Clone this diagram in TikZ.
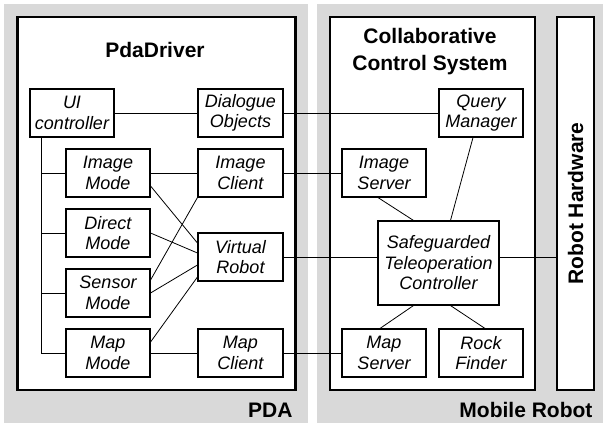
\documentclass[tikz,border=0pt]{standalone}
\usepackage{fontspec}
\setmainfont{Liberation Sans}
\usetikzlibrary{positioning}

\begin{document}
\begin{tikzpicture}[x=1pt,y=-1pt,
comp/.style={draw,line width=1.1pt,fill=white,align=center,inner sep=0pt,minimum width=#1,minimum height=48pt,font=\fontsize{18}{20.5}\selectfont\itshape},comp/.default=84pt,
frame/.style={draw,line width=2.2pt,fill=white,inner sep=0pt},
panel/.style={fill=black!15},
title/.style={font=\fontsize{21}{27}\selectfont\bfseries,align=center},
link/.style={line width=0.8pt}]
\useasboundingbox (0,0) rectangle (603,423);
% grey areas: PDA and mobile robot
\fill[panel] (4,4) rectangle (308,423);
\fill[panel] (317,4) rectangle (603,423);
\node[frame,minimum width=278pt,minimum height=373pt] (pda) at (156.5,203.5) {};
\node[frame,minimum width=205pt,minimum height=373pt] (ccs) at (432.5,203.5) {};
\node[frame,minimum width=37pt,minimum height=373pt] (hw) at (575.5,203.5) {};
\node[title] (pdatitle) at (155,50) {PdaDriver};
\node[title] (ccstitle) at (430,52) {Collaborative\\Control System};
\node[title,rotate=90] (hwtitle) at (hw.center) {Robot Hardware};
\node[title,anchor=east] (pdalabel) at (296,410) {PDA};
\node[title,anchor=east] (mrlabel) at (596,410) {Mobile Robot};
% PdaDriver components
\node[comp] (ui) at (72,113) {UI\\controller};
\node[comp=85pt] (dlg) at (240.5,113) {Dialogue\\Objects};
\node[comp] (imode) at (108,173) {Image\\Mode};
\node[comp=85pt] (iclient) at (240.5,173) {Image\\Client};
\node[comp] (dmode) at (108,233) {Direct\\Mode};
\node[comp=85pt] (vrobot) at (240.5,257) {Virtual\\Robot};
\node[comp] (smode) at (108,293) {Sensor\\Mode};
\node[comp] (mmode) at (108,353) {Map\\Mode};
\node[comp=85pt] (mclient) at (240.5,353) {Map\\Client};
% collaborative control components
\node[comp] (qman) at (481,113) {Query\\Manager};
\node[comp] (iserver) at (384,173) {Image\\Server};
\node[comp=121pt,minimum height=84pt] (stc) at (438.5,263) {Safeguarded\\Teleoperation\\Controller};
\node[comp] (mserver) at (384,353) {Map\\Server};
\node[comp] (rock) at (481,353) {Rock\\Finder};
% mode tree
\coordinate (trunk) at ([xshift=12pt]ui.south west);
\draw[link] (trunk) -- (trunk |- mmode.west);
\foreach \m in {imode,dmode,smode,mmode}
  \draw[link] (\m.west) -- (\m.west -| trunk);
% links
\draw[link] (ui) -- (dlg);
\draw[link] (dlg) -- (qman);
\draw[link] (imode) -- (iclient);
\draw[link] (iclient) -- (iserver);
\draw[link] (mmode) -- (mclient);
\draw[link] (mclient) -- (mserver);
\draw[link] (vrobot.east) -- (vrobot.east -| stc.west);
\draw[link] (stc.east |- vrobot) -- (hw.west |- vrobot);
\draw[link] ([yshift=-13pt]imode.east) -- ([yshift=14pt]vrobot.west);
\draw[link] (dmode.east) -- ([yshift=4pt]vrobot.west);
\draw[link] (smode.east) -- ([yshift=-8pt]vrobot.west);
\draw[link] ([yshift=11pt]mmode.east) -- ([yshift=-20pt]vrobot.west);
\draw[link] (iclient.south west) -- ([yshift=13pt]smode.east);
\draw[link] ([xshift=-6pt]iserver.south) -- ([xshift=-25pt]stc.north);
\draw[link] ([xshift=-8pt]qman.south) -- ([xshift=12pt]stc.north);
\draw[link] ([xshift=-25pt]stc.south) -- ([xshift=-4pt]mserver.north);
\draw[link] ([xshift=12pt]stc.south) -- ([xshift=4pt]rock.north);
\end{tikzpicture}
\end{document}
